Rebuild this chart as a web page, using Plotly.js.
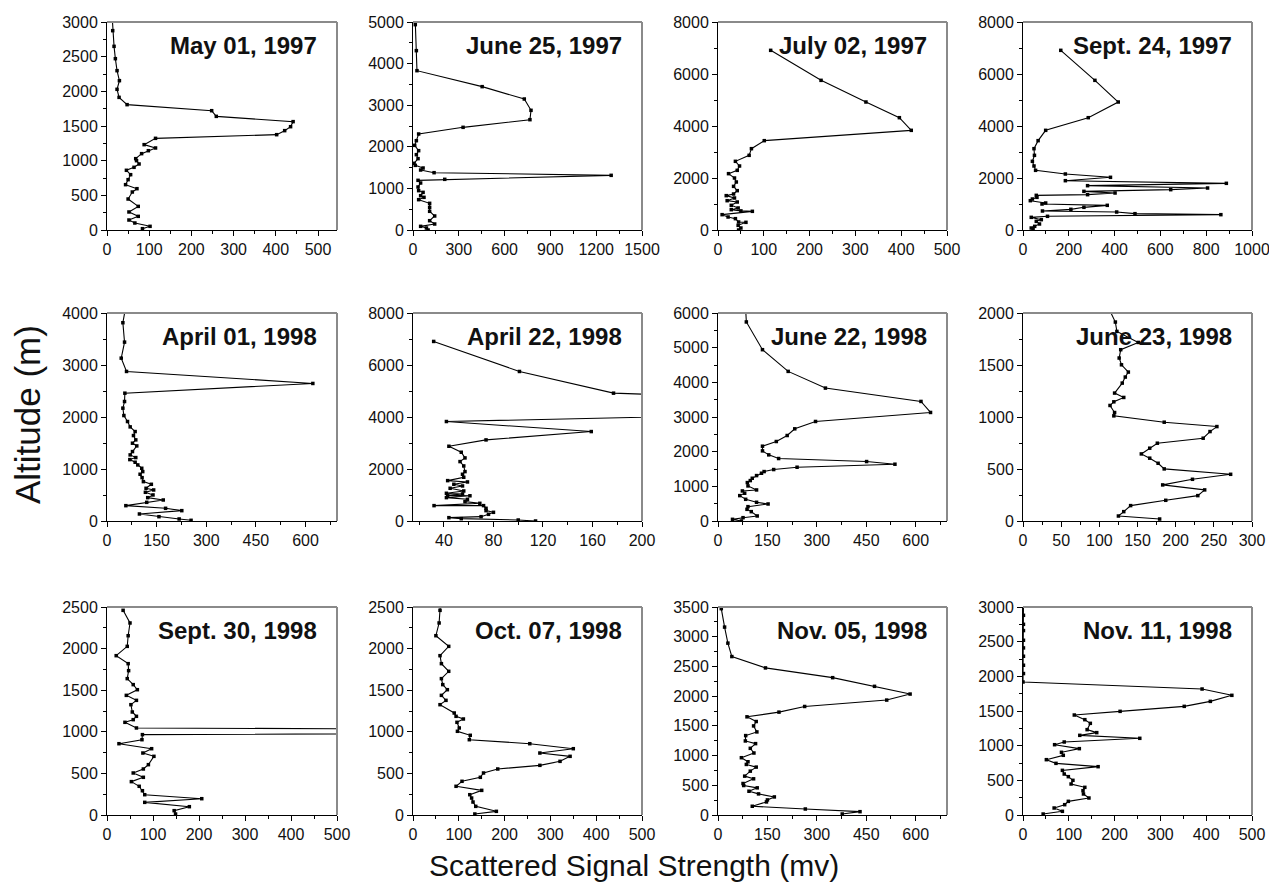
<!DOCTYPE html>
<html>
<head>
<meta charset="utf-8">
<script src="https://cdn.plot.ly/plotly-3.0.1.min.js"></script>
<style>html,body{margin:0;padding:0;background:#fff;}#chart{width:1269px;height:890px;}</style>
</head>
<body>
<div id="chart"></div>
<script>
// ---------------- DATA ----------------
const titles = ["May 01, 1997", "June 25, 1997", "July 02, 1997", "Sept. 24, 1997",
                "April 01, 1998", "April 22, 1998", "June 22, 1998", "June 23, 1998",
                "Sept. 30, 1998", "Oct. 07, 1998", "Nov. 05, 1998", "Nov. 11, 1998"];

const sigMay01_97 = [12, 13.5, 16.7, 19.8, 23.8, 29.4, 23.8, 28.6, 47.6, 248, 259, 441, 435, 421, 402, 115, 88, 115, 98, 82, 68, 70, 76, 64, 46, 56, 50, 44, 71, 60, 50, 74, 52, 74, 52, 66, 102, 84];
const altMay01_97 = [3100, 2875, 2649, 2471, 2298, 2154, 2029, 1913, 1808, 1721, 1639, 1563, 1490, 1433, 1375, 1322, 1231, 1183, 1144, 1101, 1029, 1000, 952, 904, 861, 798, 726, 654, 596, 548, 447, 341, 260, 197, 144, 101, 53, 19];

const sigJun25_97 = [14, 15, 22, 26, 453, 729, 773, 766, 328, 37, 22, 11, 37, 22, 33, 7, 15, 66, 50, 138, 1298, 208, 33, 50, 33, 37, 66, 50, 72, 37, 109, 109, 109, 142, 109, 142, 50, 88, 99];
const altJun25_97 = [5100, 4936, 4311, 3830, 3446, 3149, 2877, 2652, 2468, 2308, 2147, 2035, 1907, 1811, 1715, 1603, 1554, 1490, 1442, 1378, 1314, 1218, 1194, 1130, 1034, 946, 905, 825, 785, 729, 641, 545, 449, 337, 224, 144, 88, 48, 0];

const sigJul02_97 = [115, 225, 323, 396, 422, 101, 73, 68, 38, 47, 42, 23, 36, 40, 34, 42, 34, 18, 36, 20, 42, 29, 44, 29, 50, 75, 9, 22, 38, 45, 61, 44, 50, 45];
const altJul02_97 = [6910, 5756, 4923, 4320, 3833, 3436, 3128, 2872, 2641, 2462, 2295, 2167, 2000, 1846, 1679, 1513, 1385, 1321, 1231, 1128, 1077, 949, 846, 782, 735, 718, 590, 500, 436, 308, 295, 179, 77, 0];

const sigSep24_97 = [165, 314, 416, 285, 99, 66, 48, 50, 41, 48, 55, 185, 382, 185, 888, 282, 806, 645, 266, 402, 282, 58, 61, 41, 32, 99, 83, 368, 266, 209, 85, 409, 489, 864, 107, 36, 80, 58, 72, 51, 36, 44];
const altSep24_97 = [6910, 5756, 4923, 4320, 3833, 3436, 3128, 2872, 2641, 2462, 2295, 2154, 2026, 1897, 1795, 1705, 1615, 1551, 1487, 1423, 1359, 1333, 1256, 1192, 1128, 1038, 1000, 949, 872, 795, 731, 692, 628, 590, 526, 487, 397, 333, 231, 141, 77, 26];

const sigApr01_98 = [56, 48, 53, 43, 59, 622, 54, 53, 48, 51, 62, 70, 85, 80, 87, 77, 90, 77, 70, 87, 69, 85, 93, 105, 108, 100, 106, 110, 134, 118, 141, 116, 139, 123, 170, 120, 57, 177, 226, 98, 157, 218, 254];
const altApr01_98 = [4100, 3813, 3440, 3132, 2876, 2645, 2458, 2298, 2170, 2028, 1913, 1810, 1720, 1643, 1560, 1496, 1444, 1335, 1271, 1220, 1181, 1130, 1078, 1014, 950, 899, 834, 757, 706, 629, 597, 552, 501, 449, 404, 359, 295, 244, 199, 135, 83, 39, 13];

const sigApr22_98 = [31.7, 101, 177, 535, 42, 159, 74, 44, 54, 57, 53, 56, 57, 55, 56, 43, 59, 48, 55, 45, 56, 42, 55, 43, 61, 42, 59, 57, 69, 32, 72, 74, 74, 80, 76, 70, 44, 54, 100, 114];
const altApr22_98 = [6906, 5751, 4917, 4330, 3826, 3440, 3119, 2875, 2644, 2426, 2285, 2118, 1900, 1797, 1682, 1553, 1502, 1412, 1348, 1258, 1155, 1066, 1040, 985, 970, 899, 834, 745, 680, 591, 591, 488, 398, 334, 257, 167, 128, 90, 38, 0];

const sigJun22_98 = [84, 86, 135, 213, 326, 616, 645, 296, 233, 210, 177, 135, 135, 154, 184, 451, 537, 240, 169, 140, 132, 117, 104, 98, 89, 91, 117, 74, 81, 66, 84, 117, 152, 91, 88, 101, 119, 76, 44, 71];
const altJun22_98 = [6100, 5742, 4942, 4316, 3834, 3449, 3131, 2871, 2659, 2466, 2293, 2158, 2023, 1908, 1802, 1715, 1638, 1551, 1484, 1426, 1378, 1310, 1233, 1166, 1108, 1012, 896, 867, 800, 732, 626, 540, 491, 414, 337, 270, 145, 96, 48, 0];

const sigJun23_98 = [110, 121, 123, 151, 128, 126, 129, 138, 134, 130, 120, 132, 119, 114, 120, 119, 185, 254, 245, 236, 176, 166, 155, 166, 177, 185, 272, 222, 183, 238, 229, 187, 141, 132, 125, 179];
const altJun23_98 = [2080, 1913, 1823, 1717, 1647, 1567, 1502, 1432, 1384, 1326, 1230, 1188, 1146, 1111, 1043, 1011, 950, 908, 860, 796, 748, 700, 645, 604, 555, 501, 449, 401, 347, 299, 244, 199, 148, 90, 48, 19];

const sigSep30_98 = [35, 50, 46, 44, 20, 46, 47, 44, 57, 66, 42, 64, 52, 55, 64, 57, 39, 64, 2000, 77, 76, 26, 97, 78, 102, 90, 79, 57, 79, 53, 70, 77, 82, 206, 82, 179, 146, 149];
const altSep30_98 = [2460, 2308, 2155, 2027, 1915, 1819, 1735, 1639, 1567, 1506, 1438, 1378, 1326, 1238, 1186, 1146, 1114, 1046, 1005, 966, 905, 857, 797, 745, 705, 605, 553, 505, 453, 401, 345, 292, 244, 196, 152, 100, 52, 12];

const sigOct07_98 = [60, 59, 57, 50, 78, 59, 62, 78, 62, 65, 75, 62, 72, 59, 90, 94, 110, 96, 101, 97, 125, 123, 255, 350, 277, 343, 321, 277, 185, 154, 147, 107, 94, 150, 124, 128, 131, 137, 182, 135];
const altOct07_98 = [2550, 2460, 2308, 2155, 2027, 1915, 1819, 1727, 1639, 1567, 1506, 1438, 1378, 1326, 1226, 1186, 1154, 1114, 1046, 1006, 958, 905, 857, 797, 745, 705, 645, 597, 553, 505, 453, 405, 345, 296, 244, 204, 156, 104, 44, 12];

const sigNov05_98 = [11, 10, 20, 30, 42, 144, 348, 475, 583, 512, 263, 185, 88, 116, 108, 118, 84, 83, 114, 98, 109, 71, 91, 86, 116, 98, 81, 108, 76, 78, 119, 94, 123, 171, 150, 147, 104, 265, 431, 377];
const altNov05_98 = [3550, 3472, 3162, 2892, 2666, 2475, 2311, 2165, 2035, 1934, 1826, 1731, 1652, 1573, 1499, 1398, 1336, 1246, 1201, 1122, 1043, 964, 896, 851, 806, 738, 654, 609, 530, 496, 457, 400, 355, 304, 254, 220, 147, 101, 56, 17];

const sigNov11_98 = [1, 1, 1, 1, 1, 1, 1, 1, 1, 0, 391, 456, 409, 352, 212, 112, 135, 147, 140, 161, 124, 255, 90, 69, 123, 84, 88, 51, 72, 164, 86, 90, 99, 109, 105, 135, 131, 132, 144, 99, 91, 68, 86, 44];
const altNov11_98 = [3050, 2880, 2750, 2660, 2520, 2410, 2290, 2160, 2040, 1918, 1817, 1726, 1639, 1567, 1495, 1442, 1375, 1322, 1231, 1188, 1149, 1106, 1053, 1014, 957, 904, 861, 798, 745, 697, 644, 591, 553, 500, 447, 399, 351, 303, 245, 197, 149, 101, 53, 14];

const xTitle = "Scattered Signal Strength (mv)";
const yTitle = "Altitude (m)";

// ---------------- CHART CONFIG ----------------
const sigs = [sigMay01_97, sigJun25_97, sigJul02_97, sigSep24_97, sigApr01_98, sigApr22_98,
              sigJun22_98, sigJun23_98, sigSep30_98, sigOct07_98, sigNov05_98, sigNov11_98];
const alts = [altMay01_97, altJun25_97, altJul02_97, altSep24_97, altApr01_98, altApr22_98,
              altJun22_98, altJun23_98, altSep30_98, altOct07_98, altNov05_98, altNov11_98];

const xRanges = [[0,545],[0,1500],[0,500],[0,1000],[0,695],[15,200],[0,695],[0,300],[0,500],[0,500],[0,695],[0,500]];
const xDticks = [100,300,100,200,150,40,150,50,100,100,150,100];
const yRanges = [[0,3000],[0,5000],[0,8000],[0,8000],[0,4000],[0,8000],[0,6000],[0,2000],[0,2500],[0,2500],[0,3500],[0,3000]];
const yDticks = [500,1000,2000,2000,1000,2000,1000,500,500,500,500,500];

const W = 1269, H = 890;
const colPx = [[107,337],[413,642],[718,947],[1023,1252]];
const rowPx = [[22,230],[313,521],[607,815]];

const FONT = "Liberation Sans, Arial, Helvetica, sans-serif";
const tickFont = {family: FONT, size: 16, color: '#111'};

const traces = [];
const layout = {
  width: W, height: H,
  margin: {l:0, r:0, t:0, b:0},
  paper_bgcolor: '#fff', plot_bgcolor: '#fff',
  showlegend: false,
  annotations: [], shapes: []
};

for (let i = 0; i < 12; i++) {
  const n = i === 0 ? '' : String(i + 1);
  const r = Math.floor(i / 4), c = i % 4;
  traces.push({
    type: 'scatter', mode: 'lines+markers',
    x: sigs[i], y: alts[i],
    xaxis: 'x' + n, yaxis: 'y' + n,
    line: {color: '#000', width: 1.1},
    marker: {symbol: 'square', size: 3.5, color: '#000'},
    hoverinfo: 'x+y'
  });
  const common = {
    showline: true, linecolor: '#000', linewidth: 1,
    ticks: 'outside', ticklen: 5, tickcolor: '#000', tickwidth: 1,
    showgrid: false, zeroline: false, tickfont: tickFont,
    ticklabeloverflow: 'allow', fixedrange: true
  };
  layout['xaxis' + n] = Object.assign({}, common, {
    domain: [colPx[c][0] / W, colPx[c][1] / W],
    range: xRanges[i], dtick: xDticks[i], tick0: 0,
    anchor: 'y' + n,
    minor: {ticks: 'outside', ticklen: 3, tickcolor: '#000', dtick: xDticks[i] / 2, tick0: 0, showgrid: false}
  });
  layout['yaxis' + n] = Object.assign({}, common, {
    domain: [1 - rowPx[r][1] / H, 1 - rowPx[r][0] / H],
    range: yRanges[i], dtick: yDticks[i], tick0: 0,
    anchor: 'x' + n,
    minor: {ticks: 'outside', ticklen: 3, tickcolor: '#000', dtick: yDticks[i] / 2, tick0: 0, showgrid: false}
  });
  // grey top & right frame
  layout.shapes.push({type: 'line', xref: 'x' + n + ' domain', yref: 'y' + n + ' domain',
    x0: 0, x1: 1, y0: 1, y1: 1, line: {color: '#8a8a8a', width: 2}});
  layout.shapes.push({type: 'line', xref: 'x' + n + ' domain', yref: 'y' + n + ' domain',
    x0: 1, x1: 1, y0: 0, y1: 1, line: {color: '#8a8a8a', width: 2}});
  // panel title
  layout.annotations.push({
    text: '<b>' + titles[i] + '</b>',
    xref: 'x' + n + ' domain', yref: 'y' + n + ' domain',
    x: 1, y: 1, xanchor: 'right', yanchor: 'middle',
    xshift: -18, yshift: -23, showarrow: false,
    font: {family: FONT, size: 24, color: '#111'}
  });
}

layout.annotations.push({
  text: xTitle, xref: 'paper', yref: 'paper',
  x: 634 / W, y: 1 - 865 / H, xanchor: 'center', yanchor: 'middle', showarrow: false,
  font: {family: FONT, size: 30, color: '#111'}
});
layout.annotations.push({
  text: yTitle, xref: 'paper', yref: 'paper', textangle: -90,
  x: 28 / W, y: 1 - 415 / H, xanchor: 'center', yanchor: 'middle', showarrow: false,
  font: {family: FONT, size: 35, color: '#111'}
});

Plotly.newPlot('chart', traces, layout, {displayModeBar: false, staticPlot: true});
</script>
</body>
</html>
